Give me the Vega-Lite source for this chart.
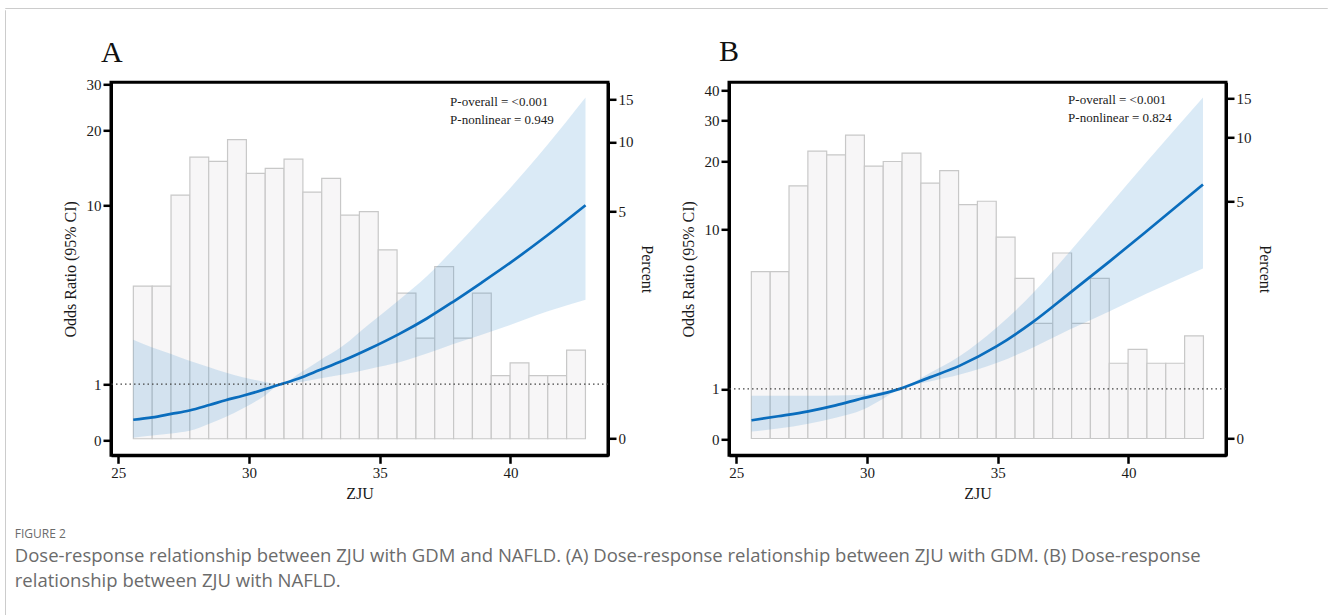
{
  "$schema": "https://vega.github.io/schema/vega-lite/v6.json",
  "background": "white",
  "padding": {"left": 4, "top": 7, "right": 0, "bottom": 0},
  "config": {
    "view": {"stroke": null},
    "font": "Liberation Serif",
    "axis": {
      "domainColor": "black", "domainWidth": 3, "tickColor": "black", "tickWidth": 2.5, "tickSize": 8,
      "labelFont": "Liberation Serif", "labelFontSize": 15, "labelColor": "#1a1a1a", "labelPadding": 2,
      "titleFont": "Liberation Serif", "titleFontSize": 16, "titleFontWeight": "normal", "titleColor": "#1a1a1a",
      "grid": false
    }
  },
  "datasets": {
    "hist": [
      {"x0": 25.575, "x1": 26.296, "pct": 2.2},
      {"x0": 26.296, "x1": 27.016, "pct": 2.2},
      {"x0": 27.016, "x1": 27.737, "pct": 5.92},
      {"x0": 27.737, "x1": 28.457, "pct": 8.62},
      {"x0": 28.457, "x1": 29.178, "pct": 8.28},
      {"x0": 29.178, "x1": 29.898, "pct": 10.22},
      {"x0": 29.898, "x1": 30.619, "pct": 7.35},
      {"x0": 30.619, "x1": 31.339, "pct": 7.72},
      {"x0": 31.339, "x1": 32.06, "pct": 8.45},
      {"x0": 32.06, "x1": 32.78, "pct": 6.1},
      {"x0": 32.78, "x1": 33.501, "pct": 7.0},
      {"x0": 33.501, "x1": 34.221, "pct": 4.82},
      {"x0": 34.221, "x1": 34.942, "pct": 5.0},
      {"x0": 34.942, "x1": 35.662, "pct": 3.33},
      {"x0": 35.662, "x1": 36.383, "pct": 2.02},
      {"x0": 36.383, "x1": 37.103, "pct": 1.1},
      {"x0": 37.103, "x1": 37.824, "pct": 2.76},
      {"x0": 37.824, "x1": 38.544, "pct": 1.1},
      {"x0": 38.544, "x1": 39.265, "pct": 2.02},
      {"x0": 39.265, "x1": 39.985, "pct": 0.57},
      {"x0": 39.985, "x1": 40.706, "pct": 0.73},
      {"x0": 40.706, "x1": 41.426, "pct": 0.57},
      {"x0": 41.426, "x1": 42.147, "pct": 0.57},
      {"x0": 42.147, "x1": 42.867, "pct": 0.91}
    ],
    "curveA": [
      {"z": 25.57, "or": 0.315, "lo": 0.04, "hi": 2.19},
      {"z": 26.3, "or": 0.355, "lo": 0.07, "hi": 1.95},
      {"z": 27.02, "or": 0.415, "lo": 0.1, "hi": 1.76},
      {"z": 27.72, "or": 0.475, "lo": 0.14, "hi": 1.57},
      {"z": 28.48, "or": 0.575, "lo": 0.25, "hi": 1.4},
      {"z": 29.1, "or": 0.665, "lo": 0.36, "hi": 1.27},
      {"z": 29.76, "or": 0.755, "lo": 0.51, "hi": 1.158},
      {"z": 30.5, "or": 0.87, "lo": 0.72, "hi": 1.06},
      {"z": 31.23, "or": 1.0, "lo": 1.0, "hi": 1.0},
      {"z": 31.9, "or": 1.13, "lo": 1.04, "hi": 1.24},
      {"z": 32.7, "or": 1.33, "lo": 1.13, "hi": 1.58},
      {"z": 33.58, "or": 1.57, "lo": 1.22, "hi": 1.99},
      {"z": 34.6, "or": 1.91, "lo": 1.36, "hi": 2.72},
      {"z": 35.75, "or": 2.38, "lo": 1.53, "hi": 3.7},
      {"z": 36.8, "or": 2.93, "lo": 1.77, "hi": 4.85},
      {"z": 37.79, "or": 3.6, "lo": 2.05, "hi": 6.43},
      {"z": 38.9, "or": 4.52, "lo": 2.35, "hi": 8.8},
      {"z": 39.96, "or": 5.58, "lo": 2.68, "hi": 11.72},
      {"z": 41.4, "or": 7.45, "lo": 3.2, "hi": 17.5},
      {"z": 42.87, "or": 10.03, "lo": 3.7, "hi": 26.7}
    ],
    "curveB": [
      {"z": 25.58, "or": 0.323, "lo": 0.125, "hi": 0.835},
      {"z": 26.6, "or": 0.4, "lo": 0.175, "hi": 0.835},
      {"z": 27.75, "or": 0.497, "lo": 0.26, "hi": 0.835},
      {"z": 28.8, "or": 0.62, "lo": 0.37, "hi": 0.84},
      {"z": 29.85, "or": 0.78, "lo": 0.535, "hi": 0.86},
      {"z": 30.6, "or": 0.885, "lo": 0.76, "hi": 0.93},
      {"z": 31.25, "or": 1.0, "lo": 1.0, "hi": 1.0},
      {"z": 32.4, "or": 1.3, "lo": 1.19, "hi": 1.42},
      {"z": 33.55, "or": 1.641, "lo": 1.38, "hi": 1.95},
      {"z": 34.95, "or": 2.284, "lo": 1.72, "hi": 3.03},
      {"z": 36.35, "or": 3.29, "lo": 2.25, "hi": 4.8},
      {"z": 37.75, "or": 4.8, "lo": 2.95, "hi": 7.8},
      {"z": 39.28, "or": 7.0, "lo": 3.8, "hi": 12.9},
      {"z": 40.68, "or": 9.74, "lo": 4.76, "hi": 19.9},
      {"z": 42.85, "or": 15.9, "lo": 6.45, "hi": 37.4}
    ],
    "annotA": [
      {"z": 37.69, "or": 24.9, "t": "P-overall = <0.001"},
      {"z": 37.69, "or": 21.2, "t": "P-nonlinear = 0.949"}
    ],
    "annotB": [
      {"z": 37.69, "or": 35.0, "t": "P-overall = <0.001"},
      {"z": 37.69, "or": 29.4, "t": "P-nonlinear = 0.824"}
    ],
    "blank": [{}]
  },
  "spacing": 0,
  "vconcat": [
    {
      "width": 1322, "height": 0.01,
      "view": {"stroke": "#cccccc", "strokeWidth": 1},
      "data": {"name": "blank"},
      "mark": {"type": "point", "opacity": 0, "size": 0},
      "encoding": {}
    },
    {
      "spacing": 8,
      "hconcat": [
        {
          "width": 0.01, "height": 606,
          "view": {"stroke": "#cccccc", "strokeWidth": 1},
          "data": {"name": "blank"},
          "mark": {"type": "point", "opacity": 0, "size": 0},
          "encoding": {}
        },
        {
          "spacing": 24.3,
          "vconcat": [
            {
              "width": 1, "height": 1,
              "data": {"name": "blank"},
              "mark": {"type": "point", "opacity": 0, "size": 0},
              "encoding": {}
            },
            {
              "title": {
                "text": "FIGURE 2",
                "subtitle": [
                  "Dose-response relationship between ZJU with GDM and NAFLD. (A) Dose-response relationship between ZJU with GDM. (B) Dose-response",
                  "relationship between ZJU with NAFLD."
                ],
                "orient": "bottom", "anchor": "start", "frame": "bounds",
                "font": "Open Sans", "fontSize": 12, "fontWeight": "normal", "color": "#6b6b6b",
                "subtitleFont": "Open Sans", "subtitleFontSize": 18.5, "subtitleColor": "#6b6b6b",
                "subtitleLineHeight": 25, "subtitlePadding": 6, "offset": 26, "dx": -45.7
              },
              "spacing": 121,
              "bounds": "flush",
              "hconcat": [
                {
                  "width": 497, "height": 373,
                  "view": {"stroke": "black", "strokeWidth": 3},
                  "title": {"text": "A", "anchor": "start", "frame": "group", "font": "Liberation Serif", "fontSize": 30, "fontWeight": "normal", "color": "#111", "dx": -10, "offset": 9},
                  "layer": [
                    {
                      "data": {"name": "hist"},
                      "mark": {"type": "rect", "fill": "#f7f6f7", "stroke": "#c8c8c8", "strokeWidth": 1.2},
                      "encoding": {
                        "x": {"field": "x0", "type": "quantitative", "scale": {"domain": [24.72, 43.73], "nice": false, "zero": false},
                              "axis": {"values": [25, 30, 35, 40], "title": "ZJU", "titlePadding": 5}},
                        "x2": {"field": "x1"},
                        "y": {"field": "pct", "type": "quantitative",
                              "scale": {"type": "symlog", "constant": 0.75, "domain": [-0.12, 17.59], "nice": false, "zero": false},
                              "axis": {"orient": "right", "values": [0, 5, 10, 15], "title": "Percent", "titlePadding": 5}},
                        "y2": {"datum": 0}
                      }
                    },
                    {
                      "layer": [
                        {
                          "data": {"name": "curveA"},
                          "mark": {"type": "area", "fill": "#3d8fd1", "fillOpacity": 0.19, "interpolate": "monotone"},
                          "encoding": {
                            "x": {"field": "z", "type": "quantitative", "scale": {"domain": [24.72, 43.73], "nice": false, "zero": false}},
                            "y": {"field": "lo", "type": "quantitative",
                                  "scale": {"type": "symlog", "constant": 1.7, "domain": [-0.22, 30.5], "nice": false, "zero": false},
                                  "axis": {"orient": "left", "values": [0, 1, 10, 20, 30], "title": "Odds Ratio (95% CI)", "titlePadding": 8}},
                            "y2": {"field": "hi"}
                          }
                        },
                        {
                          "data": {"name": "curveA"},
                          "mark": {"type": "line", "color": "#0a6dbd", "strokeWidth": 2.7, "interpolate": "monotone"},
                          "encoding": {
                            "x": {"field": "z", "type": "quantitative", "scale": {"domain": [24.72, 43.73], "nice": false, "zero": false}},
                            "y": {"field": "or", "type": "quantitative",
                                  "scale": {"type": "symlog", "constant": 1.7, "domain": [-0.22, 30.5], "nice": false, "zero": false}}
                          }
                        },
                        {
                          "data": {"values": [{"ref": 1}]},
                          "mark": {"type": "rule", "color": "#444", "strokeDash": [1.5, 3], "strokeWidth": 1.2},
                          "encoding": {
                            "y": {"field": "ref", "type": "quantitative",
                                  "scale": {"type": "symlog", "constant": 1.7, "domain": [-0.22, 30.5], "nice": false, "zero": false}}
                          }
                        },
                        {
                          "data": {"name": "annotA"},
                          "mark": {"type": "text", "align": "left", "baseline": "alphabetic", "font": "Liberation Serif", "fontSize": 13, "color": "#1a1a1a"},
                          "encoding": {
                            "x": {"field": "z", "type": "quantitative", "scale": {"domain": [24.72, 43.73], "nice": false, "zero": false}},
                            "y": {"field": "or", "type": "quantitative",
                                  "scale": {"type": "symlog", "constant": 1.7, "domain": [-0.22, 30.5], "nice": false, "zero": false}},
                            "text": {"field": "t"}
                          }
                        }
                      ]
                    }
                  ],
                  "resolve": {"scale": {"y": "independent"}, "axis": {"y": "independent"}}
                },
                {
                  "width": 497, "height": 373,
                  "view": {"stroke": "black", "strokeWidth": 3},
                  "title": {"text": "B", "anchor": "start", "frame": "group", "font": "Liberation Serif", "fontSize": 30, "fontWeight": "normal", "color": "#111", "dx": -10, "offset": 15},
                  "layer": [
                    {
                      "data": {"name": "hist"},
                      "mark": {"type": "rect", "fill": "#f7f6f7", "stroke": "#c8c8c8", "strokeWidth": 1.2},
                      "encoding": {
                        "x": {"field": "x0", "type": "quantitative", "scale": {"domain": [24.72, 43.73], "nice": false, "zero": false},
                              "axis": {"values": [25, 30, 35, 40], "title": "ZJU", "titlePadding": 5}},
                        "x2": {"field": "x1"},
                        "y": {"field": "pct", "type": "quantitative",
                              "scale": {"type": "symlog", "constant": 0.5, "domain": [-0.0925, 17.8], "nice": false, "zero": false},
                              "axis": {"orient": "right", "values": [0, 5, 10, 15], "title": "Percent", "titlePadding": 5}},
                        "y2": {"datum": 0}
                      }
                    },
                    {
                      "layer": [
                        {
                          "data": {"name": "curveB"},
                          "mark": {"type": "area", "fill": "#3d8fd1", "fillOpacity": 0.19, "interpolate": "monotone"},
                          "encoding": {
                            "x": {"field": "z", "type": "quantitative", "scale": {"domain": [24.72, 43.73], "nice": false, "zero": false}},
                            "y": {"field": "lo", "type": "quantitative",
                                  "scale": {"type": "symlog", "constant": 1.7, "domain": [-0.269, 43.26], "nice": false, "zero": false},
                                  "axis": {"orient": "left", "values": [0, 1, 10, 20, 30, 40], "title": "Odds Ratio (95% CI)", "titlePadding": 8}},
                            "y2": {"field": "hi"}
                          }
                        },
                        {
                          "data": {"name": "curveB"},
                          "mark": {"type": "line", "color": "#0a6dbd", "strokeWidth": 2.7, "interpolate": "monotone"},
                          "encoding": {
                            "x": {"field": "z", "type": "quantitative", "scale": {"domain": [24.72, 43.73], "nice": false, "zero": false}},
                            "y": {"field": "or", "type": "quantitative",
                                  "scale": {"type": "symlog", "constant": 1.7, "domain": [-0.269, 43.26], "nice": false, "zero": false}}
                          }
                        },
                        {
                          "data": {"values": [{"ref": 1}]},
                          "mark": {"type": "rule", "color": "#444", "strokeDash": [1.5, 3], "strokeWidth": 1.2},
                          "encoding": {
                            "y": {"field": "ref", "type": "quantitative",
                                  "scale": {"type": "symlog", "constant": 1.7, "domain": [-0.269, 43.26], "nice": false, "zero": false}}
                          }
                        },
                        {
                          "data": {"name": "annotB"},
                          "mark": {"type": "text", "align": "left", "baseline": "alphabetic", "font": "Liberation Serif", "fontSize": 13, "color": "#1a1a1a"},
                          "encoding": {
                            "x": {"field": "z", "type": "quantitative", "scale": {"domain": [24.72, 43.73], "nice": false, "zero": false}},
                            "y": {"field": "or", "type": "quantitative",
                                  "scale": {"type": "symlog", "constant": 1.7, "domain": [-0.269, 43.26], "nice": false, "zero": false}},
                            "text": {"field": "t"}
                          }
                        }
                      ]
                    }
                  ],
                  "resolve": {"scale": {"y": "independent"}, "axis": {"y": "independent"}}
                }
              ]
            }
          ]
        },
        {
          "width": 39, "height": 1,
          "data": {"name": "blank"},
          "mark": {"type": "point", "opacity": 0, "size": 0},
          "encoding": {}
        },
        {
          "width": 0.01, "height": 606,
          "view": {"stroke": "#cccccc", "strokeWidth": 1},
          "data": {"name": "blank"},
          "mark": {"type": "point", "opacity": 0, "size": 0},
          "encoding": {}
        }
      ]
    }
  ]
}
